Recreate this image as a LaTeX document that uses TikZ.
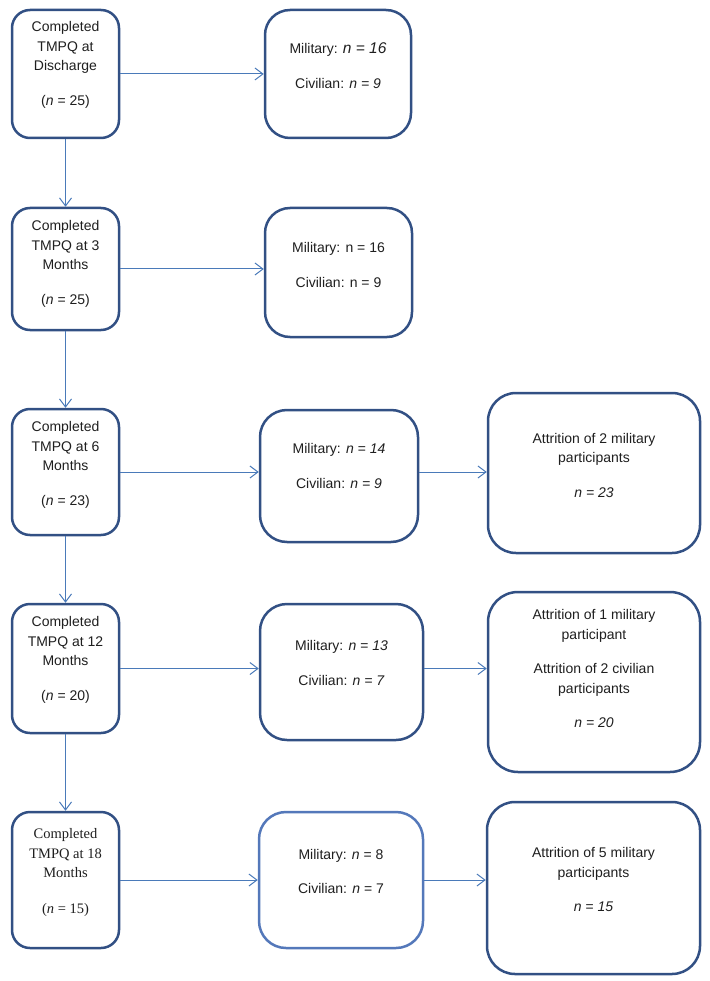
\documentclass[tikz,border=0pt]{standalone}
\usepackage{fontspec}
\setmainfont{Liberation Sans}
\newfontfamily\timesfont{Liberation Serif}
\usetikzlibrary{arrows.meta, positioning, calc}
\definecolor{boxblue}{RGB}{50,80,132}
\definecolor{paleblue}{RGB}{84,120,186}
\definecolor{arrowblue}{RGB}{74,122,185}

\begin{document}
\begin{tikzpicture}[
    x=1pt, y=-1pt,
    stage/.style={rectangle, draw=boxblue, line width=2.5pt, fill=white,
                  minimum width=107pt, rounded corners=18pt},
    group/.style={rectangle, draw=boxblue, line width=2.5pt, fill=white,
                  rounded corners=25pt},
    loss/.style={rectangle, draw=boxblue, line width=2.5pt, fill=white,
                 minimum width=212pt, rounded corners=28pt},
    txt/.style={align=center, text=black!88, font=\fontsize{14}{19.5}\selectfont},
    flow/.style={draw=arrowblue, line width=1pt, -{Straight Barb[length=8pt,width=12pt]}}
]
    \useasboundingbox (0,0) rectangle (709,981);

    % Row 1
    \node[stage, minimum height=128pt] (dis) at (65.5,74) {};
    \node[group, minimum width=146pt, minimum height=128pt] (dissplit) at (338,74) {};
    \node[txt] (distext) at (65.5,65) {Completed\\TMPQ at\\Discharge\\[15pt](\textit{n} = 25)};
    \node[txt] (dissplittext) at (338,65.5) {Military: {\fontsize{15.5}{19.5}\selectfont\textit{n = 16}}\\[15pt]Civilian: \textit{n = 9}};

    % Row 2
    \node[stage, minimum height=122pt] (m3) at (65.5,269) {};
    \node[group, minimum width=147pt, minimum height=129pt] (m3split) at (338.5,272.5) {};
    \node[txt] (m3text) at (65.5,264) {Completed\\TMPQ at 3\\Months\\[15pt](\textit{n} = 25)};
    \node[txt] (m3splittext) at (338.5,265) {Military: n = 16\\[15pt]Civilian: n = 9};

    % Row 3
    \node[stage, minimum height=126pt] (m6) at (65.5,472) {};
    \node[group, minimum width=158pt, minimum height=132pt, rounded corners=27pt] (m6split) at (339,476) {};
    \node[loss, minimum height=160pt] (m6loss) at (594,473) {};
    \node[txt] (m6text) at (65.5,465) {Completed\\TMPQ at 6\\Months\\[15pt](\textit{n} = 23)};
    \node[txt] (m6splittext) at (339,466) {Military: \textit{n = 14}\\[15pt]Civilian: \textit{n = 9}};
    \node[txt] (m6losstext) at (594,465) {Attrition of 2 military\\participants\\[15pt]\textit{n = 23}};

    % Row 4
    \node[stage, minimum height=129pt] (m12) at (65.5,668.5) {};
    \node[group, minimum width=163pt, minimum height=136pt, rounded corners=27pt] (m12split) at (341.5,672) {};
    \node[loss, minimum height=180pt, rounded corners=30pt] (m12loss) at (594,682) {};
    \node[txt] (m12text) at (65.5,660) {Completed\\TMPQ at 12\\Months\\[15pt](\textit{n} = 20)};
    \node[txt] (m12splittext) at (341.5,663) {Military: \textit{n = 13}\\[15pt]Civilian: \textit{n = 7}};
    \node[txt] (m12losstext) at (594,668.5) {Attrition of 1 military\\participant\\[15pt]Attrition of 2 civilian\\participants\\[15pt]\textit{n = 20}};

    % Row 5
    \node[stage, minimum height=136pt] (m18) at (65.5,880) {};
    \node[group, draw=paleblue, minimum width=164pt, minimum height=136pt, rounded corners=27pt] (m18split) at (341,880) {};
    \node[loss, minimum width=213pt, minimum height=172pt] (m18loss) at (593.5,888) {};
    \node[txt, font=\timesfont\fontsize{14.5}{19.5}\selectfont] (m18text) at (65.5,872.5) {Completed\\TMPQ at 18\\Months\\[16pt](\textit{n} = 15)};
    \node[txt] (m18splittext) at (341,871.5) {Military: \textit{n} = 8\\[15pt]Civilian: \textit{n} = 7};
    \node[txt] (m18losstext) at (593.5,879.5) {Attrition of 5 military\\participants\\[15pt]\textit{n = 15}};

    % Down the time points
    \draw[flow] (dis) -- (m3);
    \draw[flow] (m3) -- (m6);
    \draw[flow] (m6) -- (m12);
    \draw[flow] (m12) -- (m18);

    % Across
    \draw[flow] (dis.east) -- (dis.east -| dissplit.west);
    \draw[flow] (m3.east) -- (m3.east -| m3split.west);
    \draw[flow] (m6.east) -- (m6.east -| m6split.west);
    \draw[flow] (m6split.east |- m6.east) -- (m6loss.west |- m6.east);
    \draw[flow] (m12.east) -- (m12.east -| m12split.west);
    \draw[flow] (m12split.east |- m12.east) -- (m12loss.west |- m12.east);
    \draw[flow] (m18.east) -- (m18.east -| m18split.west);
    \draw[flow] (m18split.east |- m18.east) -- (m18loss.west |- m18.east);
\end{tikzpicture}
\end{document}
